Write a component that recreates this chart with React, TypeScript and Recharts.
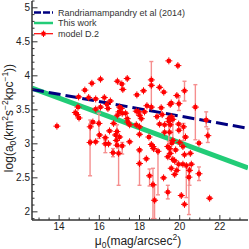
import React from 'react';
import { ComposedChart, XAxis, YAxis, Scatter, Line, ErrorBar, Customized } from 'recharts';

// model D.2 sample
const mu = [
  15.63, 16.06, 16.9, 17.39, 17.12, 17.17, 15.28, 18.2, 17.87, 14.97,
  15.47, 15.82, 16.25, 16.55, 16.38, 14.94, 14.81, 14.89, 14.99, 16.06,
  15.82, 16.43, 17.01, 17.09, 16.98, 17.14, 16.9, 17.31, 17.39, 17.84,
  17.96, 18.0, 18.09, 13.89, 15.98, 15.68, 15.55, 16.51, 16.71, 16.88,
  16.81, 17.42, 17.51, 17.84, 18.0, 16.01, 16.3, 18.0, 15.82, 16.3,
  16.46, 16.68, 16.85, 17.01, 16.88, 16.96, 17.14, 17.51, 18.0, 18.0,
  15.54, 19.46, 19.91, 18.59, 18.59, 19.0, 19.21, 20.24, 19.86, 19.58,
  19.53, 18.37, 18.59, 19.08, 19.96, 20.78, 18.25, 18.87, 19.13, 19.58,
  19.66, 19.46, 21.32, 19.0, 19.25, 19.46, 19.53, 19.95, 20.19, 19.96,
  18.47, 19.25, 19.5, 20.29, 21.4, 18.59, 18.67, 18.7, 18.92, 19.41,
  19.5, 19.66, 19.61, 20.0, 19.8, 20.16, 20.24, 20.53, 20.96, 18.34,
  19.41, 19.53, 19.75, 19.66, 19.95, 20.16, 20.33, 20.58, 19.58, 19.86,
  20.49, 19.75, 20.96, 18.5, 19.2, 20.46, 18.67, 19.41, 18.75, 20.08,
  20.24, 21.49,
];
const logA = [
  3.89, 3.95, 3.92, 3.96, 3.88, 3.8, 3.79, 3.78, 3.72, 3.69,
  3.68, 3.66, 3.68, 3.63, 3.58, 3.54, 3.46, 3.43, 3.38, 3.54,
  3.51, 3.52, 3.54, 3.52, 3.47, 3.45, 3.42, 3.45, 3.37, 3.48,
  3.47, 3.42, 3.37, 3.26, 3.3, 3.32, 3.25, 3.19, 3.3, 3.18,
  3.13, 3.32, 3.28, 3.28, 3.25, 3.13, 3.09, 3.14, 3.03, 3.0,
  3.0, 2.87, 3.05, 3.1, 2.98, 2.86, 2.97, 3.03, 2.91, 2.71,
  3.02, 4.22, 4.15, 3.94, 3.86, 3.83, 3.76, 3.78, 3.71, 3.6,
  3.58, 3.56, 3.54, 3.53, 3.59, 3.54, 3.47, 3.4, 3.43, 3.4,
  3.36, 3.37, 3.35, 3.29, 3.28, 3.33, 3.28, 3.29, 3.25, 3.2,
  3.1, 3.17, 3.17, 3.1, 3.12, 2.99, 2.96, 2.93, 2.89, 2.96,
  2.93, 3.05, 3.01, 3.02, 2.91, 2.96, 2.84, 2.86, 3.01, 2.78,
  2.81, 2.86, 2.75, 2.77, 2.7, 2.7, 2.68, 2.7, 2.64, 2.61,
  2.61, 2.55, 2.56, 2.53, 2.5, 2.51, 2.4, 2.29, 2.17, 2.24,
  2.11, 2.2,
];
const errLo = [
  0, 0, 0, 0, 0, 0, 0, 0, 0, 0,
  0, 0, 0, 0, 0, 0, 0, 0, 0, 0,
  0, 0, 0, 0, 0, 0, 0, 0, 0, 0,
  0, 0, 0, 0, 0.22, 0, 0.2, 0, 0, 0.1,
  0, 0, 0, 0, 0, 0, 0, 0, 0, 0.13,
  0, 0.06, 0, 0, 0, 0.47, 0.12, 0, 0, 0.32,
  0.49, 0, 0, 0.41, 0, 0, 0, 0.15, 0, 0,
  0, 0, 0, 0, 0.1, 0.48, 0, 0, 0, 0,
  0.3, 0, 0.1, 0, 0, 0.3, 0, 0, 0.2, 0,
  0, 0, 0, 0, 0.1, 0, 0, 0, 0.64, 0,
  0, 0, 0, 0, 0, 0, 0, 0, 0, 0,
  0, 0, 0, 0, 0, 0, 0.47, 0, 0, 0,
  0.22, 0, 0.1, 0.15, 0, 0.55, 0.5, 0.1, 0.27, 0,
  0, 0,
];
const errHi = [
  0, 0, 0, 0, 0, 0, 0, 0, 0, 0,
  0, 0, 0, 0, 0, 0, 0, 0, 0, 0,
  0, 0, 0, 0, 0, 0, 0, 0, 0, 0,
  0, 0, 0, 0, 0.15, 0, 0.1, 0, 0, 0.1,
  0, 0, 0, 0, 0, 0, 0, 0, 0, 0.05,
  0, 0.06, 0, 0, 0, 0.1, 0.05, 0, 0, 0.17,
  0.27, 0, 0, 0.27, 0, 0, 0, 0.14, 0, 0,
  0, 0, 0, 0, 0.1, 0.33, 0, 0, 0, 0,
  0.05, 0, 0.12, 0, 0, 0, 0, 0, 0.05, 0,
  0, 0, 0, 0, 0.1, 0, 0, 0, 0.02, 0,
  0, 0, 0, 0, 0, 0, 0, 0, 0, 0,
  0, 0, 0, 0, 0, 0, 0.02, 0, 0, 0,
  0.03, 0, 0.1, 0.1, 0, 0.1, 0.24, 0.1, 0.22, 0,
  0, 0,
];

// fitted relations
const randriX = [12.65, 23.4];
const randriY = [3.8, 3.228];
const thisWorkX = [12.65, 23.4];
const thisWorkY = [3.82, 2.645];

const xMajor = [14, 16, 18, 20, 22];
const yMajor = [2, 2.5, 3, 3.5, 4, 4.5, 5];
const xTicks = Array.from({ length: 21 }, (_, i) => 13 + i * 0.5);
const yTicks = Array.from({ length: 33 }, (_, i) => Math.round((1.9 + i * 0.1) * 10) / 10);

const points = mu.map((x, i) => ({ x, y: logA[i], err: [errLo[i], errHi[i]] }));
const randri = randriX.map((x, i) => ({ x, y: randriY[i] }));
const thisWork = thisWorkX.map((x, i) => ({ x, y: thisWorkY[i] }));

const FONT = '"Liberation Sans", Arial, sans-serif';
const isMaj = (v: number, list: number[]) => list.some((m) => Math.abs(m - v) < 1e-6);

const BottomTick = (p: any) => {
  const v = p.payload.value;
  const big = isMaj(v, xMajor);
  return (
    <g>
      <line x1={p.x} x2={p.x} y1={p.y} y2={p.y - (big ? 5 : 2.5)} stroke="#333" />
      {big && (
        <text x={p.x} y={p.y + 10} textAnchor="middle" fontSize={10} fontFamily={FONT} fill="#222">
          {v}
        </text>
      )}
    </g>
  );
};
const TopTick = (p: any) => {
  const big = isMaj(p.payload.value, xMajor);
  return <line x1={p.x} x2={p.x} y1={p.y} y2={p.y + (big ? 5 : 2.5)} stroke="#777" />;
};
const LeftTick = (p: any) => {
  const v = p.payload.value;
  const big = isMaj(v, yMajor);
  return (
    <g>
      <line x1={p.x} x2={p.x + (big ? 5.5 : 2.5)} y1={p.y} y2={p.y} stroke="#333" />
      {big && (
        <text x={p.x - 2} y={p.y + 3.5} textAnchor="end" fontSize={10} fontFamily={FONT} fill="#222">
          {v}
        </text>
      )}
    </g>
  );
};
const RightTick = (p: any) => {
  const big = isMaj(p.payload.value, yMajor);
  return <line x1={p.x} x2={p.x - (big ? 5.5 : 2.5)} y1={p.y} y2={p.y} stroke="#777" />;
};

const Marker = (p: any) => {
  const { cx, cy } = p;
  if (cx == null || cy == null) return <g />;
  return (
    <g>
      <line x1={cx - 3.5} x2={cx + 3.5} y1={cy} y2={cy} stroke="#ff0000" strokeWidth={1} />
      <line x1={cx} x2={cx} y1={cy - 3.5} y2={cy + 3.5} stroke="#ff0000" strokeWidth={1} />
      <rect x={cx - 2} y={cy - 2} width={4} height={4} fill="#ff0000" />
    </g>
  );
};

const LegendBox = () => (
  <g fontFamily={FONT} fontSize={9} fill="#333">
    <line x1={34} x2={53} y1={12.5} y2={12.5} stroke="#000080" strokeWidth={2.5} strokeDasharray="7 2" />
    <text x={58} y={15.5}>Randriamampandry et al (2014)</text>
    <line x1={34} x2={53} y1={23} y2={23} stroke="#22cc77" strokeWidth={2.5} />
    <text x={58} y={26}>This work</text>
    <line x1={34} x2={53} y1={33.7} y2={33.7} stroke="#ff0000" strokeWidth={1.2} />
    <line x1={43.5} x2={43.5} y1={30.5} y2={37} stroke="#ff0000" strokeWidth={1} />
    <rect x={41.5} y={31.7} width={4} height={4} fill="#ff0000" />
    <text x={58} y={36.7}>model D.2</text>
  </g>
);

const XLabel = () => (
  <text x={138} y={245} textAnchor="middle" fontSize={12} fontFamily={FONT} fill="#222">
    μ<tspan fontSize={8.5} dy={3}>0</tspan>
    <tspan dy={-3}>(mag/arcsec</tspan>
    <tspan fontSize={8.5} dy={-5}>2</tspan>
    <tspan dy={5}>)</tspan>
  </text>
);

const YLabel = () => (
  <text
    x={0}
    y={0}
    transform="translate(13,118) rotate(-90)"
    textAnchor="middle"
    fontSize={12}
    fontFamily={FONT}
    fill="#222"
  >
    log(a<tspan fontSize={8.5} dy={3}>0</tspan>
    <tspan dy={-3}>(km</tspan>
    <tspan fontSize={8.5} dy={-5}>2</tspan>
    <tspan dy={5}>s</tspan>
    <tspan fontSize={8.5} dy={-5}>−2</tspan>
    <tspan dy={5}>kpc</tspan>
    <tspan fontSize={8.5} dy={-5}>−1</tspan>
    <tspan dy={5}>))</tspan>
  </text>
);

export default function App() {
  return (
    <div style={{ position: 'absolute', left: 0, top: 0 }}>
      <ComposedChart width={249} height={249} margin={{ top: 1, right: 1, left: 0, bottom: 0 }}>
        <XAxis
          xAxisId={0}
          dataKey="x"
          type="number"
          domain={[12.65, 23.4]}
          allowDataOverflow
          ticks={xTicks}
          interval={0}
          tick={<BottomTick />}
          tickLine={false}
          tickSize={0}
          tickMargin={0}
          height={29}
          axisLine={{ stroke: '#333', strokeWidth: 1.5 }}
          label={<XLabel />}
        />
        <XAxis
          xAxisId="t"
          orientation="top"
          type="number"
          domain={[12.65, 23.4]}
          allowDataOverflow
          ticks={xTicks}
          interval={0}
          tick={<TopTick />}
          tickLine={false}
          tickSize={0}
          tickMargin={0}
          height={0}
          axisLine={{ stroke: '#777' }}
        />
        <YAxis
          yAxisId={0}
          type="number"
          domain={[1.88, 5.1]}
          allowDataOverflow
          ticks={yTicks}
          interval={0}
          tick={<LeftTick />}
          tickLine={false}
          tickSize={0}
          tickMargin={0}
          width={32}
          axisLine={{ stroke: '#333', strokeWidth: 1.5 }}
          label={<YLabel />}
        />
        <YAxis
          yAxisId="r"
          orientation="right"
          type="number"
          domain={[1.88, 5.1]}
          allowDataOverflow
          ticks={yTicks}
          interval={0}
          tick={<RightTick />}
          tickLine={false}
          tickSize={0}
          tickMargin={0}
          width={0}
          axisLine={{ stroke: '#777' }}
        />
        <Line
          data={thisWork}
          dataKey="y"
          stroke="#22cc77"
          strokeWidth={5}
          dot={false}
          isAnimationActive={false}
        />
        <Line
          data={randri}
          dataKey="y"
          stroke="#000080"
          strokeWidth={3}
          strokeDasharray="12 5"
          dot={false}
          isAnimationActive={false}
        />
        <Scatter data={points} dataKey="y" shape={<Marker />} isAnimationActive={false}>
          <ErrorBar dataKey="err" direction="y" stroke="#f58f8f" strokeWidth={1.4} width={2} />
        </Scatter>
        <Customized component={<LegendBox />} />
      </ComposedChart>
    </div>
  );
}
